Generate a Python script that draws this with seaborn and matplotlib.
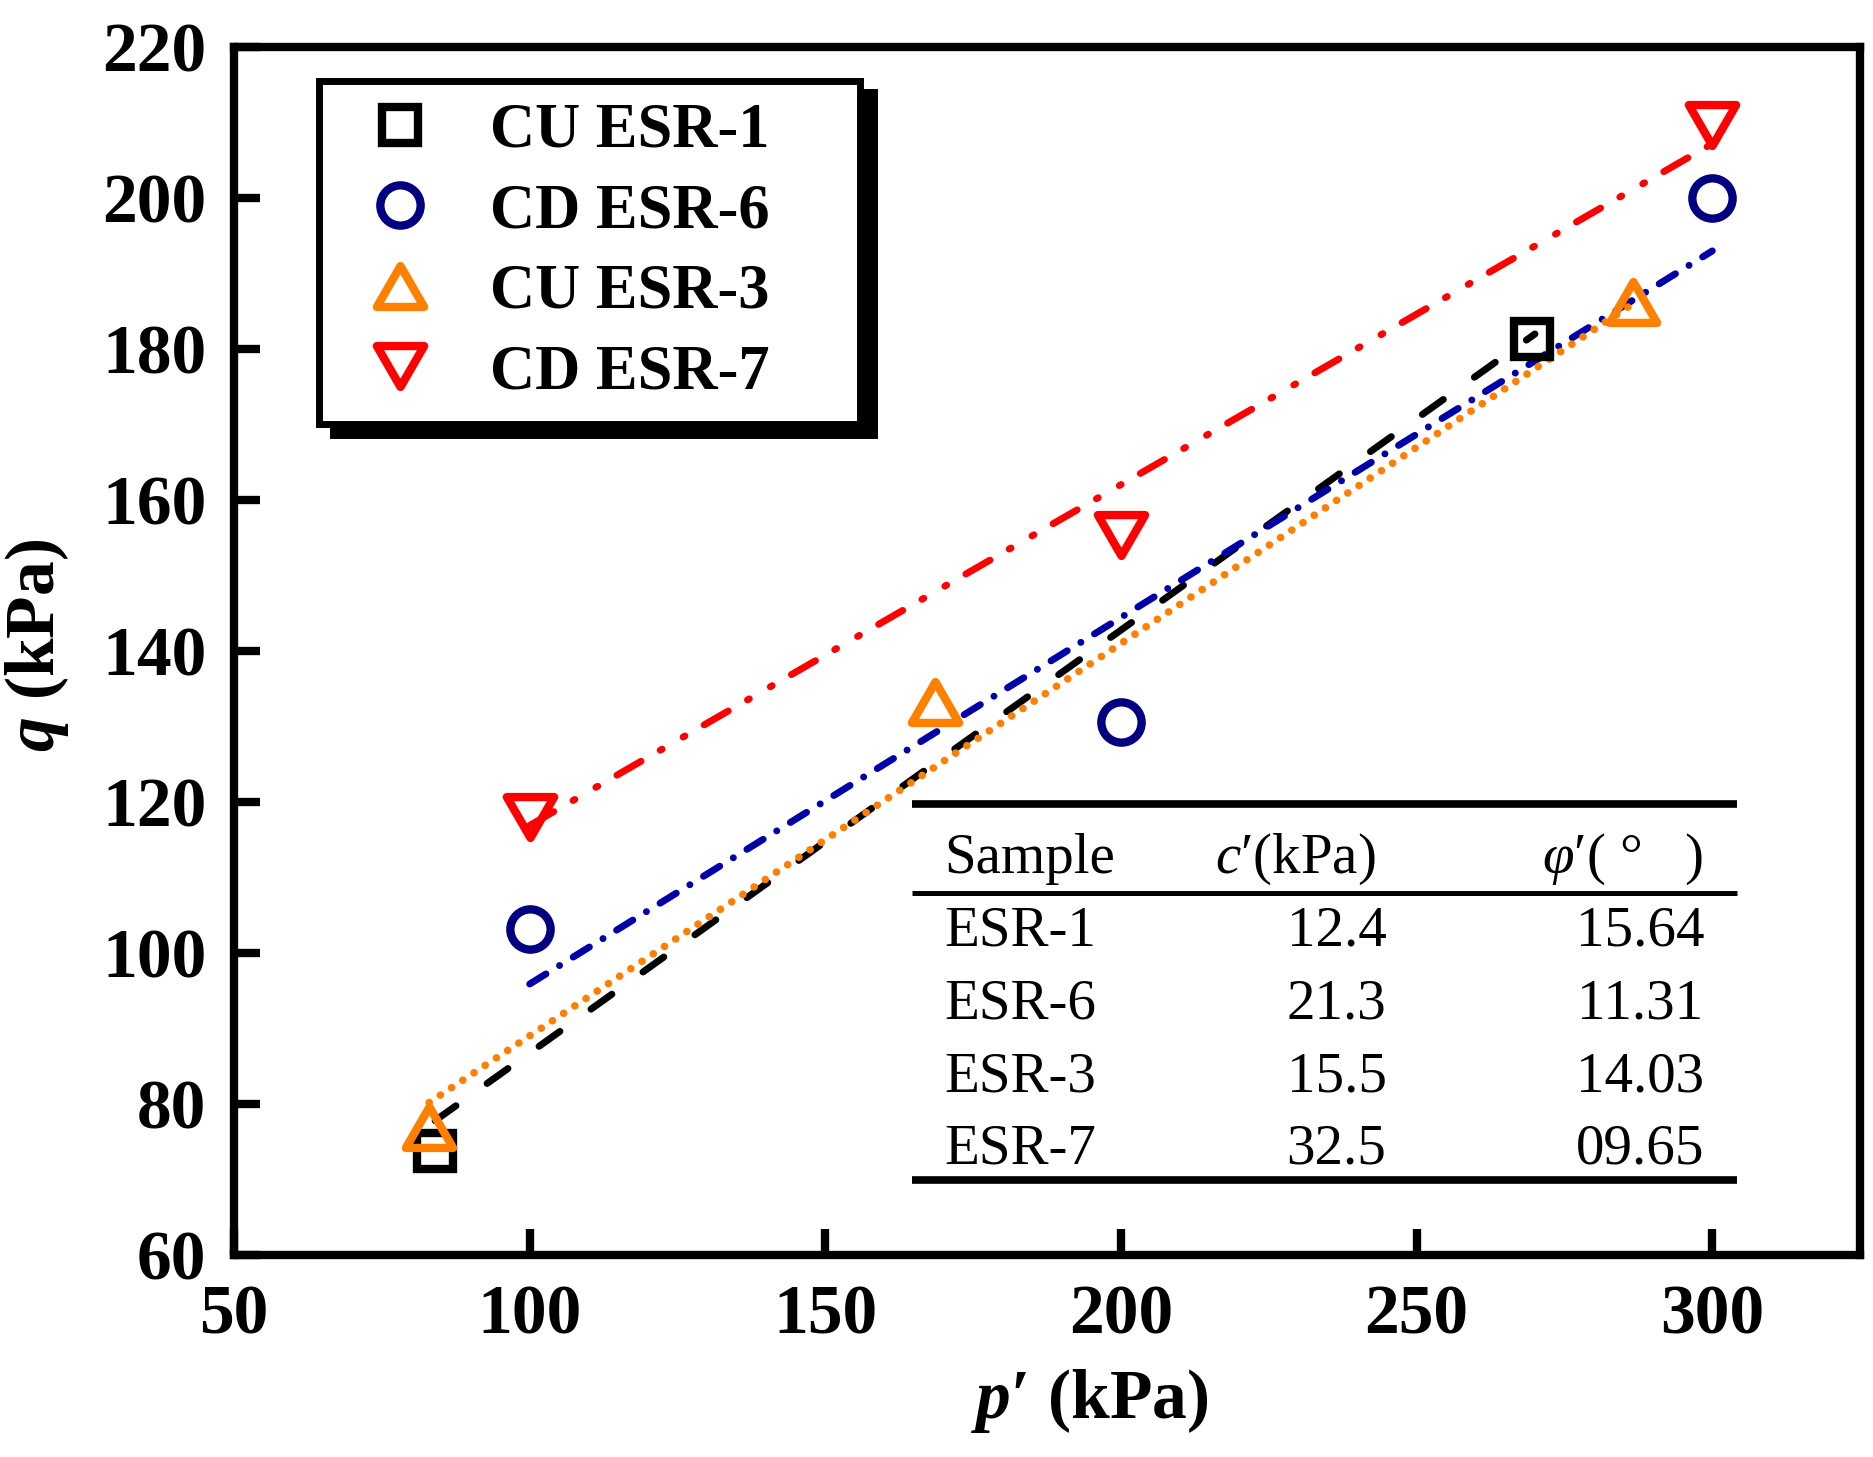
import numpy as np
import pandas as pd
import seaborn as sns
import matplotlib.pyplot as plt
from matplotlib.path import Path

# measured points (p', q) in kPa
esr1_p = [84.0, 269.5]
esr1_q = [73.8, 181.3]
esr6_p = [100.0, 200.0, 300.0]
esr6_q = [103.2, 130.6, 200.0]
esr3_p = [83.0, 168.5, 286.6]
esr3_q = [76.9, 133.2, 186.2]
esr7_p = [100.0, 200.0, 300.0]
esr7_q = [118.0, 155.4, 209.7]

# failure lines, end points
fit1_p = [84.0, 270.0]
fit1_q = [77.8, 182.0]
fit6_p = [100.0, 300.0]
fit6_q = [95.9, 193.0]
fit3_p = [83.0, 286.0]
fit3_q = [80.2, 185.7]
fit7_p = [100.0, 300.0]
fit7_q = [116.9, 207.2]

legend_labels = ["CU ESR-1", "CD ESR-6", "CU ESR-3", "CD ESR-7"]
table_samples = ["ESR-1", "ESR-6", "ESR-3", "ESR-7"]
table_c = ["12.4", "21.3", "15.5", "32.5"]
table_phi = ["15.64", "11.31", "14.03", "09.65"]

sns.set_theme(style="ticks")
plt.rcParams["font.family"] = ["Liberation Serif", "DejaVu Serif"]
plt.rcParams.update({
    "text.color": "black",
    "axes.labelcolor": "black",
    "xtick.color": "black",
    "ytick.color": "black",
    "mathtext.fontset": "custom",
    "mathtext.rm": "Liberation Serif",
    "mathtext.it": "Liberation Serif:italic",
    "mathtext.bf": "Liberation Serif:bold",
    "mathtext.bfit": "Liberation Serif:italic:bold",
})

fig = plt.figure(figsize=(18.74, 14.57), dpi=100)
ax = fig.add_axes([0.1249, 0.1386, 0.8677, 0.8291])

tri_up = Path([(-1, -0.866), (1, -0.866), (0, 0.866), (0, 0)], closed=True)
tri_dn = Path([(-1, 0.866), (1, 0.866), (0, -0.866), (0, 0)], closed=True)

# fitted lines
sns.lineplot(x=fit1_p, y=fit1_q, ax=ax, color="black", linewidth=5,
             linestyle=(0, (3.7, 5.5)), dash_capstyle="round")
sns.lineplot(x=fit6_p, y=fit6_q, ax=ax, color="#0000A8", linewidth=5,
             linestyle=(0, (2.75, 2.3, 0.01, 2.3)), dash_capstyle="round")
sns.lineplot(x=fit3_p, y=fit3_q, ax=ax, color="#FF8000", linewidth=5.5,
             linestyle=(0, (0.01, 1.75)), dash_capstyle="round")
sns.lineplot(x=fit7_p, y=fit7_q, ax=ax, color="#FF0000", linewidth=5,
             linestyle=(0, (4.0, 3.2, 0.3, 3.5, 0.3, 3.2)), dash_capstyle="round")

# points
series = [
    (esr1_p, esr1_q, "s", 26, "black"),
    (esr6_p, esr6_q, "o", 29, "#000080"),
    (esr3_p, esr3_q, tri_up, 34, "#FF8000"),
    (esr7_p, esr7_q, tri_dn, 34, "#FF0000"),
]
handles = []
for (px, qy, mk, ms, col), lab in zip(series, legend_labels):
    sns.lineplot(x=px, y=qy, ax=ax, linestyle="", marker=mk, markersize=ms,
                 markerfacecolor="none", markeredgecolor=col,
                 markeredgewidth=6, color=col, label=lab, zorder=5)
    handles.append(ax.get_lines()[-1])

ax.set_xlim(50, 325)
ax.set_ylim(60, 220)
ax.set_xticks(np.arange(50, 301, 50))
ax.set_yticks(np.arange(60, 221, 20))
for sp in ax.spines.values():
    sp.set_linewidth(6)
    sp.set_color("black")
ax.tick_params(direction="in", length=19, width=6, color="black",
               labelcolor="black", labelsize=50, top=False, right=False)
ax.tick_params(axis="x", pad=21)
ax.tick_params(axis="y", pad=20)
for t in ax.get_xticklabels() + ax.get_yticklabels():
    t.set_fontweight("bold")

ax.set_xlabel(r"$\mathbfit{p}$′ (kPa)", fontsize=50, fontweight="bold")
ax.set_ylabel(r"$\mathbfit{q}$ (kPa)", fontsize=50, fontweight="bold")
ax.xaxis.set_label_coords(0.526, -0.093)
ax.yaxis.set_label_coords(-0.10, 0.505)

leg = ax.legend(handles=handles, labels=legend_labels, loc="upper left",
                bbox_to_anchor=(0.0523, 0.0, 0.3327, 0.972), mode="expand",
                borderaxespad=0, frameon=True, fancybox=False,
                edgecolor="black", framealpha=1,
                shadow={"ox": 10, "oy": -8, "color": "black", "alpha": 1},
                prop={"family": "Liberation Serif", "weight": "bold", "size": 45},
                borderpad=0.35, handlelength=1.9, handletextpad=0.48,
                labelspacing=0.36)
leg.get_frame().set_linewidth(5)
for t in leg.get_texts():
    t.set_color("black")

# table of strength parameters
tr = ax.transAxes
x0, x1 = 0.417, 0.9243
ax.plot([x0, x1], [0.3733, 0.3733], transform=tr, color="black", lw=5.5,
        solid_capstyle="butt", clip_on=False)
ax.plot([x0, x1], [0.2997, 0.2997], transform=tr, color="black", lw=3.6,
        solid_capstyle="butt", clip_on=False)
ax.plot([x0, x1], [0.062, 0.062], transform=tr, color="black", lw=5.5,
        solid_capstyle="butt", clip_on=False)
tfs = 41
ax.text(0.4367, 0.3162, "Sample", transform=tr, fontsize=tfs, va="baseline")
ax.text(0.6033, 0.3162, r"$c$′(kPa)", transform=tr, fontsize=tfs, va="baseline")
ax.text(0.8044, 0.3162, r"$\varphi$′( °   )", transform=tr, fontsize=tfs, va="baseline")
row_y = [0.2566, 0.1962, 0.1358, 0.0755]
for yy, s, c, f in zip(row_y, table_samples, table_c, table_phi):
    ax.text(0.4367, yy, s, transform=tr, fontsize=tfs, va="baseline")
    ax.text(0.678, yy, c, transform=tr, fontsize=tfs, va="baseline", ha="center")
    ax.text(0.8647, yy, f, transform=tr, fontsize=tfs, va="baseline", ha="center")

fig.savefig("out.png", dpi=100, facecolor="white")
